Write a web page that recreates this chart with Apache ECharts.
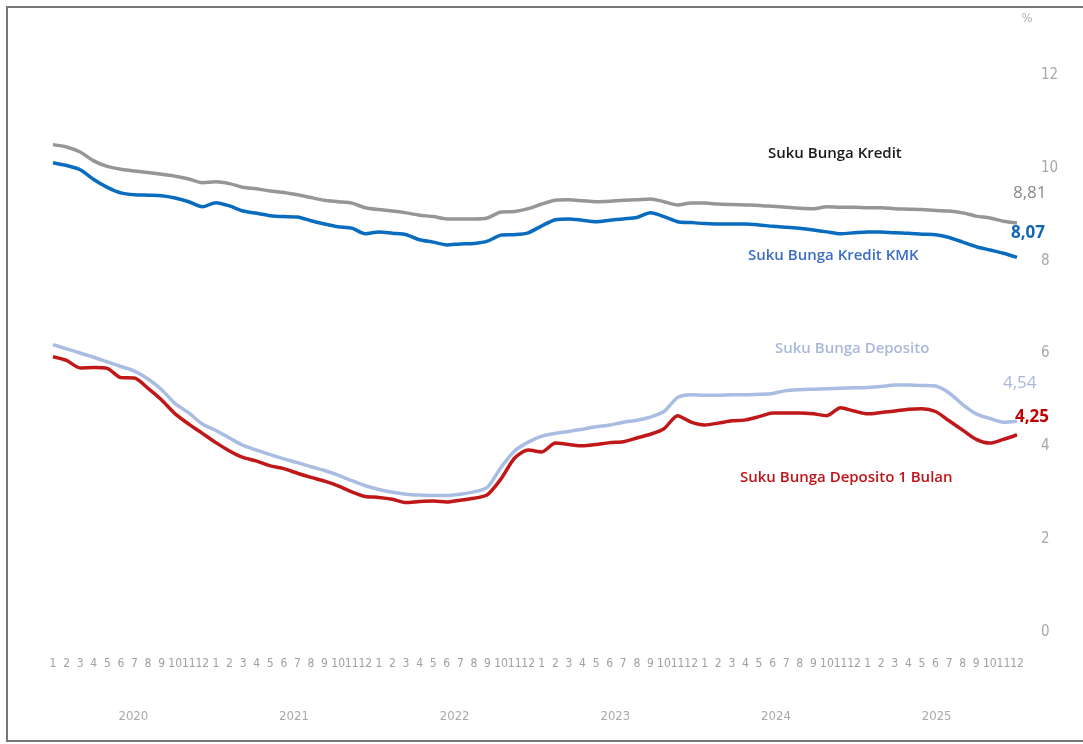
<!DOCTYPE html>
<html>
<head>
<meta charset="utf-8">
<script src="https://cdn.jsdelivr.net/npm/echarts@6/dist/echarts.min.js"></script>
<style>
html,body{margin:0;padding:0;background:#fff;overflow:hidden;width:1083px;height:744px;}
#frame{position:absolute;left:6px;top:6px;width:1077px;height:736px;border-left:2px solid #777;border-top:2px solid #777;border-bottom:2px solid #777;box-sizing:border-box;}
#chart{position:absolute;left:0;top:0;width:1083px;height:744px;}
</style>
</head>
<body>
<div id="frame"></div>
<div id="chart"></div>
<script>
const years = ['2020','2021','2022','2023','2024','2025'];
const monthLabels = ['1','2','3','4','5','6','7','8','9','10','11','12'];
const categories = [];
years.forEach(y => monthLabels.forEach(m => categories.push(y + '-' + m)));

const sukuBungaKredit = [
 10.50,10.45,10.34,10.15,10.03,9.97,9.93,9.90,9.86,9.82,9.76,9.68,
 9.70,9.66,9.58,9.55,9.50,9.47,9.42,9.36,9.30,9.27,9.24,9.14,
 9.10,9.07,9.03,8.98,8.95,8.90,8.90,8.90,8.92,9.05,9.06,9.12,
 9.22,9.30,9.31,9.29,9.27,9.28,9.30,9.31,9.33,9.27,9.20,9.24,
 9.24,9.22,9.21,9.20,9.19,9.17,9.15,9.13,9.12,9.16,9.15,9.15,
 9.14,9.14,9.12,9.11,9.10,9.08,9.07,9.03,8.96,8.92,8.85,8.81
];
const sukuBungaKreditKMK = [
 10.11,10.05,9.96,9.75,9.58,9.46,9.42,9.41,9.40,9.35,9.27,9.16,
 9.25,9.18,9.07,9.02,8.97,8.95,8.94,8.86,8.79,8.73,8.70,8.58,
 8.62,8.59,8.56,8.45,8.40,8.34,8.36,8.37,8.42,8.55,8.56,8.60,
 8.75,8.88,8.90,8.87,8.84,8.87,8.90,8.93,9.03,8.95,8.84,8.82,
 8.80,8.79,8.79,8.79,8.77,8.74,8.72,8.70,8.66,8.62,8.58,8.60,
 8.62,8.62,8.60,8.59,8.57,8.56,8.50,8.40,8.30,8.23,8.16,8.07
];
const sukuBungaDeposito = [
 6.19,6.10,6.01,5.92,5.82,5.72,5.62,5.45,5.22,4.92,4.72,4.48,
 4.34,4.18,4.02,3.92,3.82,3.73,3.65,3.56,3.48,3.38,3.26,3.15,
 3.07,3.01,2.97,2.95,2.94,2.94,2.97,3.02,3.12,3.55,3.90,4.09,
 4.22,4.28,4.32,4.37,4.42,4.46,4.52,4.56,4.63,4.75,5.05,5.11,
 5.10,5.10,5.11,5.11,5.12,5.14,5.20,5.22,5.23,5.24,5.25,5.26,
 5.27,5.29,5.32,5.32,5.31,5.30,5.15,4.90,4.70,4.60,4.52,4.54
];
const sukuBungaDeposito1Bulan = [
 5.93,5.85,5.69,5.70,5.68,5.48,5.47,5.25,5.00,4.70,4.48,4.28,
 4.08,3.90,3.76,3.68,3.58,3.52,3.42,3.33,3.25,3.15,3.02,2.92,
 2.90,2.86,2.79,2.81,2.82,2.80,2.84,2.88,2.96,3.30,3.75,3.92,
 3.88,4.07,4.04,4.01,4.04,4.08,4.10,4.18,4.26,4.38,4.66,4.52,
 4.46,4.50,4.55,4.57,4.64,4.72,4.72,4.72,4.70,4.66,4.83,4.76,
 4.70,4.73,4.76,4.80,4.81,4.75,4.55,4.35,4.15,4.07,4.15,4.25
];
const yTicks = [0,2,4,6,8,10,12];

const fmt = v => v.toFixed(2).replace('.', ',');
const FONT = "'Liberation Sans Narrow','DejaVu Sans Condensed','Liberation Sans',sans-serif";
const LFONT = "'Open Sans','Liberation Sans',sans-serif";

const chart = echarts.init(document.getElementById('chart'));
function mkSeries(name, data, color, width, labelColor, bold, offset) {
  return {
    name, type: 'line', data, showSymbol: false, symbol: 'none',
    lineStyle: { color, width }, itemStyle: { color },
    smooth: 0.25, z: 3,
    endLabel: {
      show: true, formatter: p => fmt(p.value), color: labelColor,
      fontSize: 17, fontWeight: bold ? 'bold' : 'normal', fontFamily: LFONT,
      offset, distance: 0
    }
  };
}
chart.setOption({
  animation: false,
  grid: { left: 53, right: 66, top: 75, bottom: 112, containLabel: false },
  xAxis: [
    { type: 'category', data: categories, boundaryGap: false,
      axisLine: { show: false }, axisTick: { show: false },
      axisLabel: { interval: 0, margin: 26, color: '#a0a0a0', fontSize: 12, fontFamily: FONT,
        formatter: v => v.split('-')[1] } },
    { type: 'category', data: years, boundaryGap: true, position: 'bottom', offset: 70,
      axisLine: { show: false }, axisTick: { show: false },
      axisLabel: { color: '#a8a8a8', fontSize: 13, fontFamily: FONT } }
  ],
  yAxis: {
    type: 'value', position: 'right', min: 0, max: 12, interval: 2,
    name: '%', nameLocation: 'end', nameGap: 50,
    nameTextStyle: { color: '#b0b0b0', fontSize: 13, fontFamily: FONT, padding: [0, 0, 0, 20] },
    axisLine: { show: false }, axisTick: { show: false }, splitLine: { show: false },
    axisLabel: { margin: 24, color: '#a8a8a8', fontSize: 15, fontFamily: FONT,
      formatter: v => yTicks.includes(v) ? String(v) : '' }
  },
  series: [
    mkSeries('Suku Bunga Kredit', sukuBungaKredit, '#969696', 3.5, '#8a8a8a', false, [-4, -30]),
    mkSeries('Suku Bunga Kredit KMK', sukuBungaKreditKMK, '#0a6cbf', 3.5, '#1466b4', true, [-6, -24]),
    mkSeries('Suku Bunga Deposito', sukuBungaDeposito, '#a9bde3', 3.5, '#a9b7d6', false, [-14, -38]),
    mkSeries('Suku Bunga Deposito 1 Bulan', sukuBungaDeposito1Bulan, '#c01818', 3.5, '#c00000', true, [-2, -18])
  ],
  graphic: [
    { type: 'text', left: 768, top: 146, style: { text: 'Suku Bunga Kredit', fill: '#1a1a1a', font: "600 15px 'Open Sans', sans-serif" } },
    { type: 'text', left: 748, top: 248, style: { text: 'Suku Bunga Kredit KMK', fill: '#3c6ec4', font: "600 15px 'Open Sans', sans-serif" } },
    { type: 'text', left: 775, top: 341, style: { text: 'Suku Bunga Deposito', fill: '#a9b9dc', font: "600 15px 'Open Sans', sans-serif" } },
    { type: 'text', left: 740, top: 470, style: { text: 'Suku Bunga Deposito 1 Bulan', fill: '#c0141a', font: "600 15px 'Open Sans', sans-serif" } }
  ]
});
</script>
</body>
</html>
